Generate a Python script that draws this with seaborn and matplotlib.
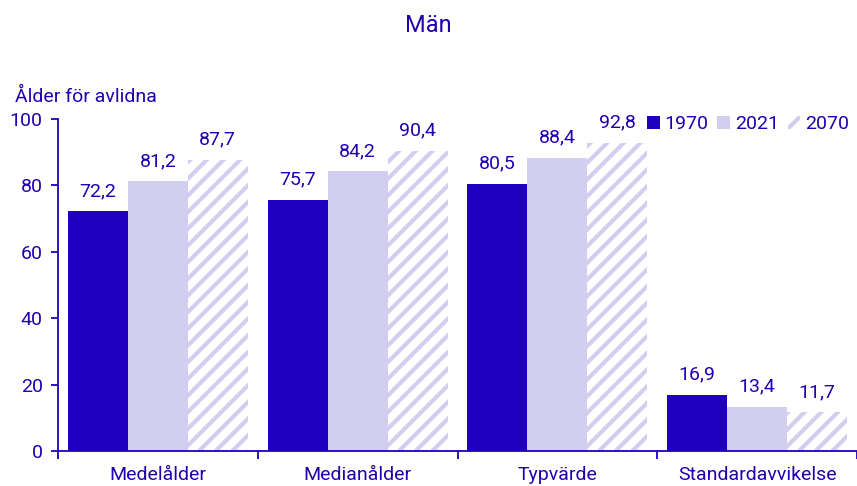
import seaborn as sns
import pandas as pd
import matplotlib
matplotlib.use("Agg")
from matplotlib import pyplot as plt

# data
categories = ['Medelålder', 'Medianålder', 'Typvärde', 'Standardavvikelse']
years = ['1970', '2021', '2070']
v1970 = [72.2, 75.7, 80.5, 16.9]
v2021 = [81.2, 84.2, 88.4, 13.4]
v2070 = [87.7, 90.4, 92.8, 11.7]

rows = []
for year, vals in zip(years, [v1970, v2021, v2070]):
    for cat, v in zip(categories, vals):
        rows.append({'Mått': cat, 'År': year, 'Ålder': v})
df = pd.DataFrame(rows)

dark = '#1E00BE'
light = '#D2CEF0'
txt = '#2200B0'
fs = 14

sns.set_theme(style="white")
plt.rcParams['font.family'] = ['Roboto', 'DejaVu Sans']
plt.rcParams['hatch.linewidth'] = 3.0

fig = plt.figure(figsize=(8.57, 4.86), dpi=100)
ax = fig.add_axes([58 / 857, 35 / 486, 1 - 58 / 857, (451 - 119) / 486])

sns.barplot(data=df, x='Mått', y='Ålder', hue='År', order=categories, hue_order=years,
            palette=[dark, light, 'white'], saturation=1, width=0.9, legend=False, ax=ax)

# hatched 2070 bars
for p in ax.containers[2]:
    p.set_facecolor('white')
    p.set_edgecolor(light)
    p.set_hatch('//')
    p.set_linewidth(0)
for c in ax.containers[:2]:
    for p in c:
        p.set_linewidth(0)

for c, vals in zip(ax.containers, [v1970, v2021, v2070]):
    ax.bar_label(c, labels=[f"{v:.1f}".replace('.', ',') for v in vals],
                 padding=8, color=txt, fontsize=fs)

ax.set_ylim(0, 100)
ax.set_xlim(-0.5, 3.5)
ax.set_yticks([0, 20, 40, 60, 80, 100])
ax.set_xlabel(None)
ax.set_ylabel(None)

for s in ['top', 'right']:
    ax.spines[s].set_visible(False)
for s in ['left', 'bottom']:
    ax.spines[s].set_color(dark)
    ax.spines[s].set_linewidth(1.3)

ax.tick_params(axis='y', which='major', length=5, width=1.3, color=dark,
               labelcolor=txt, labelsize=fs, pad=6, left=True)
ax.tick_params(axis='x', which='major', length=0, labelcolor=txt, labelsize=fs, pad=11)
ax.set_xticks([-0.5, 0.5, 1.5, 2.5, 3.5], minor=True)
ax.tick_params(axis='x', which='minor', length=6, width=1.3, color=dark, bottom=True)

ax.legend(handles=ax.containers, labels=years, loc='upper right', bbox_to_anchor=(1.0, 1.035),
          ncol=3, frameon=False, fontsize=fs, labelcolor=txt,
          handlelength=0.65, handleheight=0.65, handletextpad=0.25, columnspacing=0.45,
          borderaxespad=0.0)

fig.text(0.5, 1 - 25 / 486, 'Män', ha='center', va='center', color=txt, fontsize=17)
fig.text(15 / 857, 1 - 97 / 486, 'Ålder för avlidna', ha='left', va='center', color=txt, fontsize=fs)

fig.savefig('out.png', dpi=100)
